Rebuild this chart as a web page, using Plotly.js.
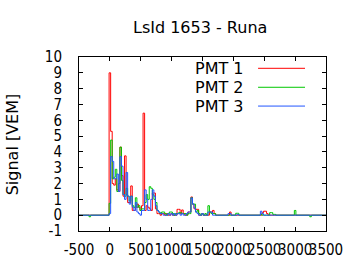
<!DOCTYPE html>
<html>
<head>
<meta charset="utf-8">
<script src="https://cdn.plot.ly/plotly-3.0.1.min.js"></script>
<style>html,body{margin:0;padding:0;background:#fff;}#chart{width:360px;height:270px;}</style>
</head>
<body>
<div id="chart"></div>
<script>
// Bin start times [ns] (25 ns bins, step traces)
const time = [-500, -337.5, -312.5,
  -12.5, 12.5, 37.5, 62.5, 87.5, 112.5, 137.5, 162.5, 187.5, 212.5,
  237.5, 262.5, 287.5, 312.5, 337.5, 362.5, 387.5, 412.5, 437.5, 462.5,
  487.5, 512.5, 537.5, 562.5, 587.5, 612.5, 637.5, 662.5, 687.5, 712.5,
  737.5, 762.5, 787.5, 812.5, 837.5, 862.5, 887.5, 912.5, 937.5, 962.5,
  987.5, 1012.5, 1037.5, 1062.5, 1087.5, 1112.5, 1137.5, 1162.5, 1187.5, 1212.5,
  1237.5, 1262.5, 1287.5, 1312.5, 1337.5, 1362.5, 1387.5, 1412.5, 1437.5, 1462.5,
  1487.5, 1512.5, 1537.5, 1562.5, 1587.5, 1612.5, 1637.5, 1662.5, 1687.5, 1712.5,
  1737.5,
  1912.5, 1937.5, 1962.5, 2037.5, 2062.5, 2087.5,
  2437.5, 2462.5, 2487.5, 2512.5, 2537.5, 2562.5, 2587.5, 2612.5, 2637.5, 2662.5, 2687.5,
  2987.5, 3012.5, 3237.5, 3262.5, 3500];

const pmt1 = [0, 0, 0,
  9.0, 5.3, 2.0, 1.9, 2.3, 1.6, 1.5, 4.3, 2.5, 1.2,
  3.75, 1.3, 0.8, 0.8, 1.85, 0.3, 0.3, 0.5, 0.7, 0.5,
  0.3, 0.6, 6.45, 0.3, 0.6, 0.5, 0.4, 0.3, 1.4, 1.4,
  0.4, 0.1, 0.1, 0.0, 0.1, 0.1, 0.0, 0.1, 0.0, 0.0,
  0.1, 0.0, 0.0, 0.0, 0.37, 0.37, 0.1, 0.33, 0.1, 0.0,
  0.0, 0.2, 0.2, 1.15, 0.7, 0.4, 0.37, 0.37, 0.0, 0.0,
  0.1, 0.0, 0.0, 0.0, 0.0, 0.2, 0.2, 0.3, 0.1, 0.0,
  0.0,
  0.0, 0.2, 0.0, 0.0, 0.0, 0.0,
  0.0, 0.15, 0.25, 0.25, 0.1, 0.0, 0.0, 0.0, 0.0, 0.0, 0.0,
  0.0, 0.0, 0.0, 0.0, 0.0];

const pmt2 = [0, -0.1, 0,
  0.75, 4.75, 2.3, 2.4, 2.9, 1.5, 2.0, 4.3, 2.2, 1.3,
  1.2, 1.7, 1.2, 0.9, 1.2, 0.6, 0.5, 1.1, 0.5, 0.6,
  0.3, 0.4, 0.4, 0.8, 1.3, 1.0, 1.8, 1.7, 1.3, 1.0,
  0.8, 0.3, 0.2, 0.1, 0.2, 0.2, 0.1, 0.0, 0.1, 0.2,
  0.2, 0.1, 0.0, 0.1, 0.1, 0.16, 0.16, 0.1, 0.1, 0.1,
  0.0, 0.1, 0.1, 1.1, 0.7, 0.7, 0.2, 0.3, 0.1, 0.0,
  0.1, 0.0, 0.1, 0.0, 0.6, 0.2, 0.1, 0.1, 0.1, 0.0,
  0.0,
  0.0, 0.0, 0.0, 0.12, 0.12, 0.0,
  0.05, 0.0, 0.0, 0.0, 0.0, 0.0, 0.16, 0.16, 0.05, 0.05, 0.0,
  0.3, 0.0, -0.1, 0.0, 0.0];

const pmt3 = [0, 0, 0,
  0.1, 3.7, 3.4, 2.3, 2.3, 2.6, 1.5, 3.7, 3.1, 1.3,
  1.0, 2.7, 1.2, 0.7, 1.2, 0.5, 0.3, 0.8, 0.2, 0.1,
  0.0, 0.3, 0.3, 1.6, 1.0, 0.3, 0.3, 1.0, 1.6, 1.2,
  0.6, 0.3, 0.2, 0.1, 0.1, 0.0, 0.0, 0.0, 0.1, 0.0,
  0.1, 0.0, 0.1, 0.0, 0.1, 0.1, 0.0, 0.1, 0.0, 0.0,
  0.1, 0.2, 0.2, 1.09, 0.7, 0.45, 0.2, 0.1, 0.0, 0.0,
  0.1, 0.0, 0.0, 0.0, 0.2, 0.2, 0.2, 0.0, 0.0, 0.0,
  0.0,
  0.1, 0.1, 0.0, 0.0, 0.05, 0.0,
  0.25, 0.1, 0.0, 0.0, 0.0, 0.0, 0.0, 0.0, 0.0, 0.0, 0.0,
  0.0, 0.0, 0.0, 0.0, 0.0];

const seriesNames = ['PMT 1', 'PMT 2', 'PMT 3'];
const seriesColors = ['#ff0000', '#00c800', '#2255ff'];
const seriesData = [pmt1, pmt2, pmt3];
const xTicks = [-500, 0, 500, 1000, 1500, 2000, 2500, 3000, 3500];
const xTickText = ['-500', '0', '500', '1000', '1500', '2000', '2500', '3000', '3500'];
const yTicks = [-1, 0, 1, 2, 3, 4, 5, 6, 7, 8, 9, 10];
const yTickText = ['-1', '0', '1', '2', '3', '4', '5', '6', '7', '8', '9', '10'];

const FONT = 'DejaVu Sans, sans-serif';
const TICKFONT = 'DejaVu Sans Condensed, DejaVu Sans, sans-serif';

const traces = seriesData.map((d, k) => ({
  x: time, y: d, type: 'scatter', mode: 'lines',
  line: {shape: 'hv', color: seriesColors[k], width: 1},
  name: seriesNames[k], showlegend: false
}));

// gnuplot-style legend: label on the left, line sample on the right
const legY = [0.935, 0.826, 0.718];
const annotations = seriesNames.map((n, k) => ({
  xref: 'paper', yref: 'paper', x: 0.675, y: legY[k],
  xanchor: 'right', yanchor: 'middle', text: n, showarrow: false,
  font: {family: FONT, size: 16, color: '#000'}
}));
annotations.push({
  xref: 'paper', yref: 'paper', x: -0.27, y: 0.5, textangle: -90,
  xanchor: 'center', yanchor: 'middle', text: 'Signal [VEM]', showarrow: false,
  font: {family: FONT, size: 16, color: '#000'}
});
const shapes = seriesColors.map((c, k) => ({
  type: 'line', xref: 'paper', yref: 'paper', x0: 0.725, x1: 0.915,
  y0: legY[k], y1: legY[k], line: {color: c, width: 1}
}));

const axisBase = {
  showgrid: false, zeroline: false, showline: true, linecolor: '#000', linewidth: 1,
  mirror: 'ticks', ticks: 'inside', ticklen: 4, tickwidth: 1, tickcolor: '#000',
  tickfont: {family: TICKFONT, size: 15, color: '#000'}, tickangle: 0, tickmode: 'array'
};

const layout = {
  width: 360, height: 270,
  margin: {l: 79, r: 34, t: 57, b: 39, pad: 0},
  paper_bgcolor: '#fff', plot_bgcolor: '#fff',
  title: {text: 'LsId 1653 - Runa', font: {family: FONT, size: 16, color: '#000'},
          xref: 'container', yref: 'container', x: 0.556, xanchor: 'center', y: 0.9, yanchor: 'middle'},
  xaxis: Object.assign({}, axisBase, {range: [-500, 3500], tickvals: xTicks, ticktext: xTickText, ticklabelstandoff: 5}),
  yaxis: Object.assign({}, axisBase, {range: [-1, 10], tickvals: yTicks, ticktext: yTickText, ticklabelstandoff: 13}),
  annotations: annotations, shapes: shapes, showlegend: false
};

Plotly.newPlot('chart', traces, layout, {displayModeBar: false, staticPlot: true});
</script>
</body>
</html>
